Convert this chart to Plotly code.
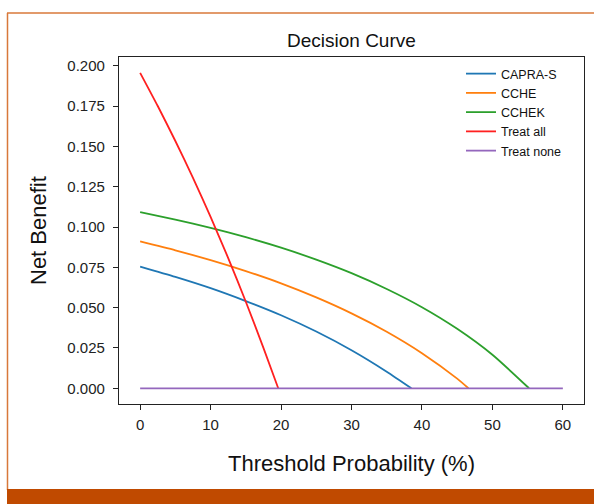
import plotly.graph_objects as go

# Threshold probability (%) grid
x_capra = [0, 5, 10, 15, 20, 25, 30, 35, 38.5]
capra_s = [0.0755, 0.0691, 0.0621, 0.0541, 0.0453, 0.0352, 0.0236, 0.0103, 0.0]

x_cche = [0, 5, 10, 15, 20, 25, 30, 35, 40, 45, 46.6]
cche = [0.0911, 0.0856, 0.0795, 0.0727, 0.0651, 0.0564, 0.0465, 0.0351, 0.0218, 0.0060, 0.0]

x_cchek = [0, 5, 10, 15, 20, 25, 30, 35, 40, 45, 50, 55.2]
cchek = [0.1093, 0.1046, 0.0995, 0.0937, 0.0872, 0.0798, 0.0714, 0.0616, 0.0503, 0.0369, 0.0208, 0.0]

x_all = [0, 2.5, 5, 7.5, 10, 12.5, 15, 17.5, 19.6]
treat_all = [0.1957, 0.1751, 0.1534, 0.1305, 0.1063, 0.0808, 0.0537, 0.0251, 0.0]

x_none = [0, 60]
treat_none = [0.0, 0.0]

names = ["CAPRA-S", "CCHE", "CCHEK", "Treat all", "Treat none"]
colors = ["#1f77b4", "#ff7f0e", "#2ca02c", "#ff2020", "#9467bd"]
xs = [x_capra, x_cche, x_cchek, x_all, x_none]
ys = [capra_s, cche, cchek, treat_all, treat_none]

x_ticks = [0, 10, 20, 30, 40, 50, 60]
y_ticks = [0.0, 0.025, 0.05, 0.075, 0.1, 0.125, 0.15, 0.175, 0.2]
y_tick_text = ["0.000", "0.025", "0.050", "0.075", "0.100", "0.125", "0.150", "0.175", "0.200"]

fig = go.Figure()
for n, c, xx, yy in zip(names, colors, xs, ys):
    fig.add_trace(go.Scatter(x=xx, y=yy, mode="lines", name=n,
                             line=dict(color=c, width=1.8, shape="spline", smoothing=0.6)))

W, H = 594, 504
L, R, T, B = 119, 10, 57, 100
pw, ph = W - L - R, H - T - B

def px(x):
    return (x - L) / pw

def py(y):
    return (H - B - y) / ph

tick_font = dict(family="Liberation Sans, Arial, sans-serif", size=15, color="#222")
axis_common = dict(showline=True, mirror=True, linecolor="#222", linewidth=1.2,
                   ticks="outside", ticklen=5, tickcolor="#222", tickwidth=1,
                   showgrid=False, zeroline=False, tickfont=tick_font)

fig.update_layout(
    width=W, height=H,
    margin=dict(l=L, r=R, t=T, b=B, autoexpand=False),
    paper_bgcolor="white", plot_bgcolor="white",
    showlegend=True,
    legend=dict(x=px(461), y=py(59), xanchor="left", yanchor="top",
                bgcolor="rgba(0,0,0,0)", borderwidth=0,
                font=dict(family="Liberation Sans, Arial, sans-serif", size=12.5, color="#111"),
                itemwidth=30, tracegroupgap=0),
    xaxis=dict(range=[-3, 63], tickvals=x_ticks, ticklabelstandoff=2, **axis_common),
    yaxis=dict(range=[-0.00975, 0.2055], tickvals=y_ticks, ticktext=y_tick_text,
               ticklabelstandoff=5, **axis_common),
    annotations=[
        dict(text="Decision Curve", x=0.5, y=py(40), xref="paper", yref="paper",
             showarrow=False, xanchor="center", yanchor="middle",
             font=dict(family="Liberation Sans, Arial, sans-serif", size=19, color="#111")),
        dict(text="Threshold Probability (%)", x=0.5, y=py(463), xref="paper", yref="paper",
             showarrow=False, xanchor="center", yanchor="middle",
             font=dict(family="Liberation Sans, Arial, sans-serif", size=22, color="#111")),
        dict(text="Net Benefit", x=px(38), y=py(231), xref="paper", yref="paper",
             showarrow=False, xanchor="center", yanchor="middle", textangle=-90,
             font=dict(family="Liberation Sans, Arial, sans-serif", size=22, color="#111")),
    ],
    shapes=[
        dict(type="line", xref="paper", yref="paper", x0=px(7.5), x1=px(7.5), y0=py(13), y1=py(490),
             line=dict(color="#d8783a", width=1.5)),
        dict(type="line", xref="paper", yref="paper", x0=px(7), x1=px(594), y0=py(13), y1=py(13),
             line=dict(color="#d8783a", width=1.5)),
        dict(type="rect", xref="paper", yref="paper", x0=px(7), x1=px(594), y0=py(489), y1=py(504),
             fillcolor="#c04a00", line=dict(width=0)),
    ],
)

fig.write_html("out.html")
